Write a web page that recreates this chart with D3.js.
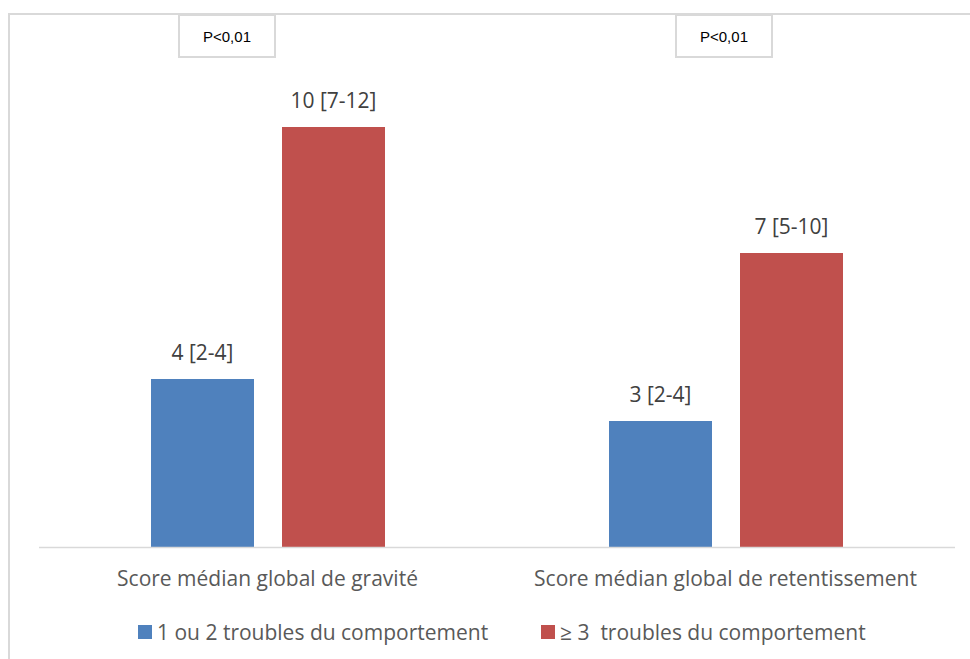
<!DOCTYPE html>
<html>
<head>
<meta charset="utf-8">
<script src="https://cdn.jsdelivr.net/npm/d3@7"></script>
<style>
  html, body { margin: 0; padding: 0; background: #fff; }
  svg { display: block; }
</style>
</head>
<body>
<script>
const categories = ["Score médian global de gravité", "Score médian global de retentissement"];
const seriesNames = ["1 ou 2 troubles du comportement", "≥ 3  troubles du comportement"];
const seriesValues = [[4, 3], [10, 7]];
const valueLabels = [["4 [2-4]", "3 [2-4]"], ["10 [7-12]", "7 [5-10]"]];
const pLabels = ["P<0,01", "P<0,01"];
const colors = ["#4F81BD", "#C0504D"];

const W = 970, H = 659;
const font = "'Open Sans', 'Noto Sans', sans-serif";
const fs = 21;
const svg = d3.select("body").append("svg").attr("width", W).attr("height", H);

// outer frame
svg.append("path").attr("d", "M9,659 V14 H970").attr("fill", "none")
  .attr("stroke", "#d9d9d9").attr("stroke-width", 2);

const x0 = d3.scaleBand().domain(categories).range([38.5, 954.5]).paddingInner(0).paddingOuter(0);
const x1 = d3.scaleBand().domain([0, 1]).range([112.5, 346.5]).paddingInner(28 / 131);
const y = d3.scaleLinear().domain([0, 12]).range([547, 43]);

const groups = svg.selectAll("g.grp").data(categories).enter().append("g")
  .attr("transform", d => `translate(${x0(d)},0)`);

groups.each(function(cat, ci) {
  const g = d3.select(this);
  [0, 1].forEach(si => {
    const v = seriesValues[si][ci];
    g.append("rect").attr("x", x1(si)).attr("width", x1.bandwidth())
      .attr("y", y(v)).attr("height", y(0) - y(v)).attr("fill", colors[si]);
    g.append("text").attr("x", x1(si) + x1.bandwidth() / 2).attr("y", y(v) - 19)
      .attr("text-anchor", "middle").attr("font-family", font).attr("font-size", fs)
      .attr("fill", "#404040").text(valueLabels[si][ci]);
  });
});

// baseline axis
const axis = d3.axisBottom(x0).tickSize(0).tickPadding(0);
const ag = svg.append("g").attr("transform", `translate(0,${y(0)})`).call(axis);
ag.select(".domain").attr("stroke", "#d9d9d9").attr("stroke-width", 1.5);
ag.selectAll(".tick text").attr("dy", null).attr("y", 39).attr("font-family", font)
  .attr("font-size", fs).attr("fill", "#595959");

// P boxes
const pBoxX = [179, 676];
const pBoxes = svg.selectAll("g.pb").data(pLabels).enter().append("g")
  .attr("transform", (d, i) => `translate(${pBoxX[i]},0)`);
pBoxes.append("rect").attr("x", 0).attr("y", 15).attr("width", 96).attr("height", 42)
  .attr("fill", "#fff").attr("stroke", "#d9d9d9").attr("stroke-width", 2);
pBoxes.append("text").attr("x", 48).attr("y", 42).attr("text-anchor", "middle")
  .attr("font-family", "Arial, 'Liberation Sans', sans-serif").attr("font-size", 15)
  .attr("fill", "#000").text(d => d);

// legend
const legendX = [138, 541];
const lg = svg.selectAll("g.lg").data(seriesNames).enter().append("g")
  .attr("transform", (d, i) => `translate(${legendX[i]},625)`);
lg.append("rect").attr("width", 14).attr("height", 14).attr("fill", (d, i) => colors[i]);
lg.append("text").attr("x", 19).attr("y", 15).attr("font-family", font).attr("font-size", fs)
  .attr("fill", "#595959").attr("xml:space", "preserve").style("white-space", "pre").text(d => d);
</script>
</body>
</html>
